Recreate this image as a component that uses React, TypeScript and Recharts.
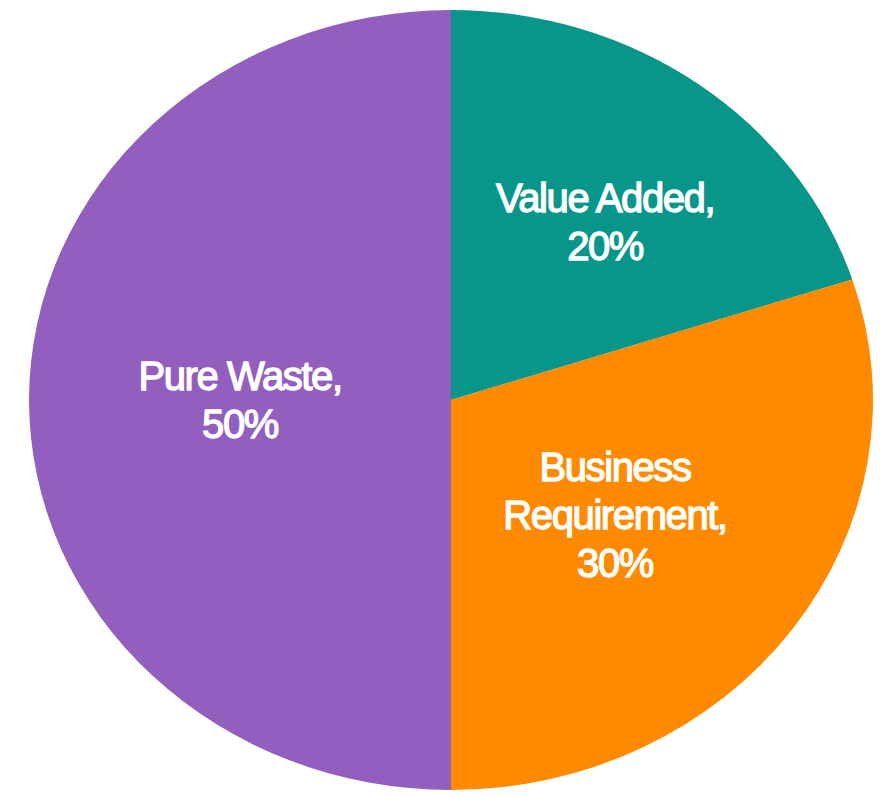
import React from 'react';
import { PieChart, Pie, Cell } from 'recharts';

const CATEGORIES = ['Value Added', 'Business Requirement', 'Pure Waste'];
const VALUES = [20, 30, 50];
const LABEL_LINES = [
  ['Value Added,', '20%'],
  ['Business', 'Requirement,', '30%'],
  ['Pure Waste,', '50%'],
];
const COLORS = ['#08968A', '#FF8A00', '#925FBF'];

const data = CATEGORIES.map((name, i) => ({ name, value: VALUES[i] }));

const X_STRETCH = 1.082;
const LABEL_R = [0.584, 0.488, 0.5];
const LABEL_ANGLE_NUDGE = [-2.7, -1.2, 0];
const LINE_H = 48;
const RAD = Math.PI / 180;

function EllipseSector(props: any) {
  const { cx, cy, outerRadius, startAngle, endAngle, fill } = props;
  const rx = outerRadius * X_STRETCH;
  const ry = outerRadius;
  const x1 = cx + rx * Math.cos(startAngle * RAD);
  const y1 = cy - ry * Math.sin(startAngle * RAD);
  const x2 = cx + rx * Math.cos(endAngle * RAD);
  const y2 = cy - ry * Math.sin(endAngle * RAD);
  const delta = startAngle - endAngle;
  const large = Math.abs(delta) > 180 ? 1 : 0;
  const sweep = delta > 0 ? 1 : 0;
  const d = `M${cx},${cy} L${x1},${y1} A${rx},${ry} 0 ${large} ${sweep} ${x2},${y2} Z`;
  return <path d={d} fill={fill} stroke="none" />;
}

function renderLabel(props: any) {
  const { cx, cy, midAngle, outerRadius, index } = props;
  const a = (midAngle + LABEL_ANGLE_NUDGE[index]) * RAD;
  const r = outerRadius * LABEL_R[index];
  const x = cx + r * Math.cos(a) * X_STRETCH;
  const y = cy - r * Math.sin(a);
  const lines = LABEL_LINES[index];
  const first = y - ((lines.length - 1) * LINE_H) / 2 + 14;
  return (
    <text
      key={`lbl-${index}`}
      x={x}
      y={first}
      textAnchor="middle"
      fill="#ffffff"
      stroke="#ffffff"
      strokeWidth={1.3}
      fontFamily="'Liberation Sans', Arial, sans-serif"
      fontSize={40}
      letterSpacing={-1.4}
    >
      {lines.map((t, i) => (
        <tspan key={i} x={x} y={first + i * LINE_H}>
          {t}
        </tspan>
      ))}
    </text>
  );
}

export default function App() {
  return (
    <div style={{ position: 'absolute', left: 0, top: 0, width: 880, height: 795, background: '#ffffff' }}>
      <PieChart width={880} height={795} margin={{ top: 0, right: 0, bottom: 0, left: 0 }}>
        <Pie
          data={data}
          dataKey="value"
          nameKey="name"
          cx={451}
          cy={400}
          outerRadius={390}
          startAngle={90}
          endAngle={-270}
          stroke="none"
          isAnimationActive={false}
          shape={EllipseSector}
          label={renderLabel}
          labelLine={false}
        >
          {data.map((d, i) => (
            <Cell key={d.name} fill={COLORS[i]} />
          ))}
        </Pie>
      </PieChart>
    </div>
  );
}
